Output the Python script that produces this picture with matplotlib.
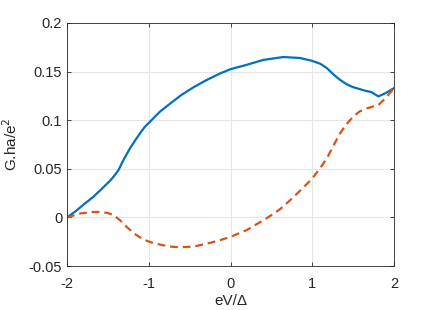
import numpy as np
import matplotlib.pyplot as plt

plt.rcParams['font.family'] = ['Liberation Sans', 'DejaVu Sans']

# values
x_blue = [-2.0, -1.9, -1.8, -1.68, -1.58, -1.47, -1.42, -1.37, -1.31, -1.23, -1.16, -1.106,
          -1.05, -0.99, -0.92, -0.86, -0.74, -0.6, -0.45, -0.3, -0.13, 0.0, 0.2, 0.4, 0.645,
          0.85, 1.0, 1.1, 1.18, 1.26, 1.34, 1.42, 1.5, 1.64, 1.72, 1.81, 1.9, 2.0]
g_blue = [0.0, 0.006, 0.013, 0.021, 0.029, 0.038, 0.043, 0.0487, 0.059, 0.071, 0.080, 0.0865,
          0.093, 0.098, 0.104, 0.109, 0.117, 0.126, 0.134, 0.141, 0.148, 0.1525, 0.157, 0.162, 0.165,
          0.164, 0.161, 0.158, 0.1535, 0.147, 0.1415, 0.137, 0.134, 0.1305, 0.129, 0.1245, 0.128, 0.133]

x_red = [-2.0, -1.9, -1.84, -1.7, -1.6, -1.5, -1.43, -1.35, -1.27, -1.17, -1.066, -0.96,
         -0.86, -0.74, -0.62, -0.45, -0.29, -0.15, 0.0, 0.2, 0.44, 0.6, 0.73, 0.87, 1.0,
         1.1, 1.18, 1.26, 1.34, 1.42, 1.5, 1.58, 1.66, 1.74, 1.81, 1.9, 2.0]
g_red = [0.0, 0.0025, 0.004, 0.0055, 0.0057, 0.0045, 0.0023, -0.003, -0.0098, -0.017, -0.0228, -0.026,
         -0.028, -0.030, -0.0307, -0.030, -0.027, -0.024, -0.020, -0.013, -0.001, 0.008, 0.0177, 0.029, 0.040,
         0.051, 0.061, 0.074, 0.0865, 0.096, 0.1036, 0.109, 0.112, 0.114, 0.1157, 0.123, 0.133]

fig = plt.figure(figsize=(4.36, 3.10), dpi=100)
ax = fig.add_axes([67/436, 1 - 266/310, 327/436, 243/310])

ax.plot(x_blue, g_blue, color='#0072BD', linewidth=1.6)
ax.plot(x_red, g_red, color='#D95319', linewidth=1.6, linestyle=(0, (3.5, 2.2)))

ax.set_xlim(-2, 2)
ax.set_ylim(-0.05, 0.2)
ax.set_xticks([-2, -1, 0, 1, 2])
ax.set_yticks([-0.05, 0, 0.05, 0.1, 0.15, 0.2])
ax.set_yticklabels(['-0.05', '0', '0.05', '0.1', '0.15', '0.2'])
ax.set_xticklabels(['-2', '-1', '0', '1', '2'])
ax.grid(True, color='#e6e6e6', linewidth=0.8)
ax.set_axisbelow(True)
ax.tick_params(direction='in', top=True, right=True, length=3, width=0.6,
               labelsize=10.5, colors='#262626')
ax.tick_params(axis='x', pad=8)
for s in ax.spines.values():
    s.set_color('#262626')
    s.set_linewidth(0.6)

ax.set_xlabel('eV/Δ', fontsize=11, color='#262626', labelpad=2)
ax.set_ylabel('G.ha/e$^2$', fontsize=11, color='#262626', labelpad=6)

fig.savefig('out.png', dpi=100)
